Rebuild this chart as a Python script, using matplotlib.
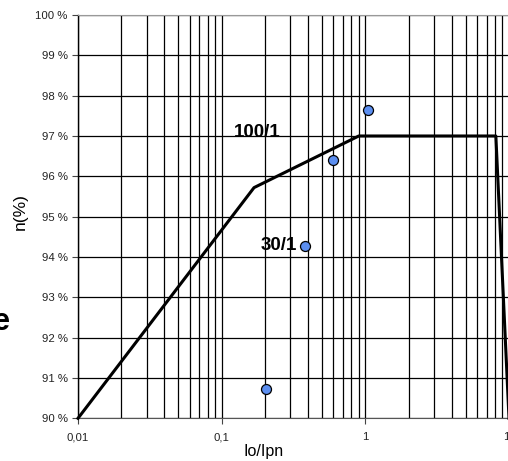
import matplotlib
matplotlib.use("Agg")
import matplotlib.pyplot as plt
from matplotlib.ticker import FixedLocator, LogLocator, NullFormatter

plt.rcParams['font.family'] = ['Liberation Sans', 'DejaVu Sans']

# Efficiency curve for the 100/1 ratio
curve_x = [0.01, 0.168, 0.9, 8.1, 10.0]
curve_y = [90.0, 95.72, 97.0, 97.0, 90.0]

# Measured points
meas_x = [1.04, 0.596, 0.382, 0.203]
meas_y = [97.64, 96.40, 94.28, 90.73]

y_ticks = [90, 91, 92, 93, 94, 95, 96, 97, 98, 99, 100]
y_labels = [f"{v} %" for v in y_ticks]
x_ticks = [0.01, 0.1, 1, 10]
x_labels = ["0,01", "0,1", "1", "10"]

W, H = 508, 461
fig = plt.figure(figsize=(W / 100, H / 100), dpi=100)
left, right, top, bottom = 78, 509, 15, 418.3
ax = fig.add_axes([left / W, 1 - bottom / H, (right - left) / W, (bottom - top) / H])

ax.set_xscale('log')
ax.set_xlim(0.01, 10)
ax.set_ylim(90, 100)

ax.xaxis.set_major_locator(FixedLocator(x_ticks))
ax.set_xticklabels(x_labels)
ax.xaxis.set_minor_locator(LogLocator(base=10, subs=range(2, 10)))
ax.xaxis.set_minor_formatter(NullFormatter())
ax.set_yticks(y_ticks)
ax.set_yticklabels(y_labels)

ax.grid(True, which='both', axis='x', color='black', linewidth=0.9)
ax.grid(True, which='major', axis='y', color='black', linewidth=0.9)
ax.tick_params(axis='x', which='minor', length=0)
ax.tick_params(axis='both', which='major', length=4, width=0.8,
               labelsize=8.2, labelcolor='#222222', color='#444444')
ax.tick_params(axis='x', which='major', pad=6)

ax.spines['left'].set_color('black')
ax.spines['left'].set_linewidth(1.0)
ax.spines['bottom'].set_color('#555555')
ax.spines['top'].set_color('#999999')
ax.spines['right'].set_visible(False)

ax.plot(curve_x, curve_y, color='black', linewidth=2.2, zorder=3, clip_on=False)
ax.plot(meas_x, meas_y, linestyle='none', marker='o', markersize=7.2,
        markerfacecolor='#5B8EF0', markeredgecolor='black', markeredgewidth=0.9,
        zorder=4)

ax.text(0.259, 97.08, "100/1", fontsize=13.5, fontweight='bold', ha='right',
        va='center', zorder=5)
ax.text(0.333, 94.28, "30/1", fontsize=13.5, fontweight='bold', ha='right',
        va='center', zorder=5)

# axis titles placed in figure pixels
fig.text(264 / W, 1 - 451 / H, "Io/Ipn", fontsize=11.5, ha='center', va='center')
fig.text(20 / W, 1 - 212 / H, "n(%)", fontsize=12.5, rotation=90,
         ha='center', va='center')

fig.text(10 / W, 1 - 322 / H, "e", fontsize=22, fontweight='bold',
         ha='right', va='center')

fig.savefig("out.png", dpi=100)
